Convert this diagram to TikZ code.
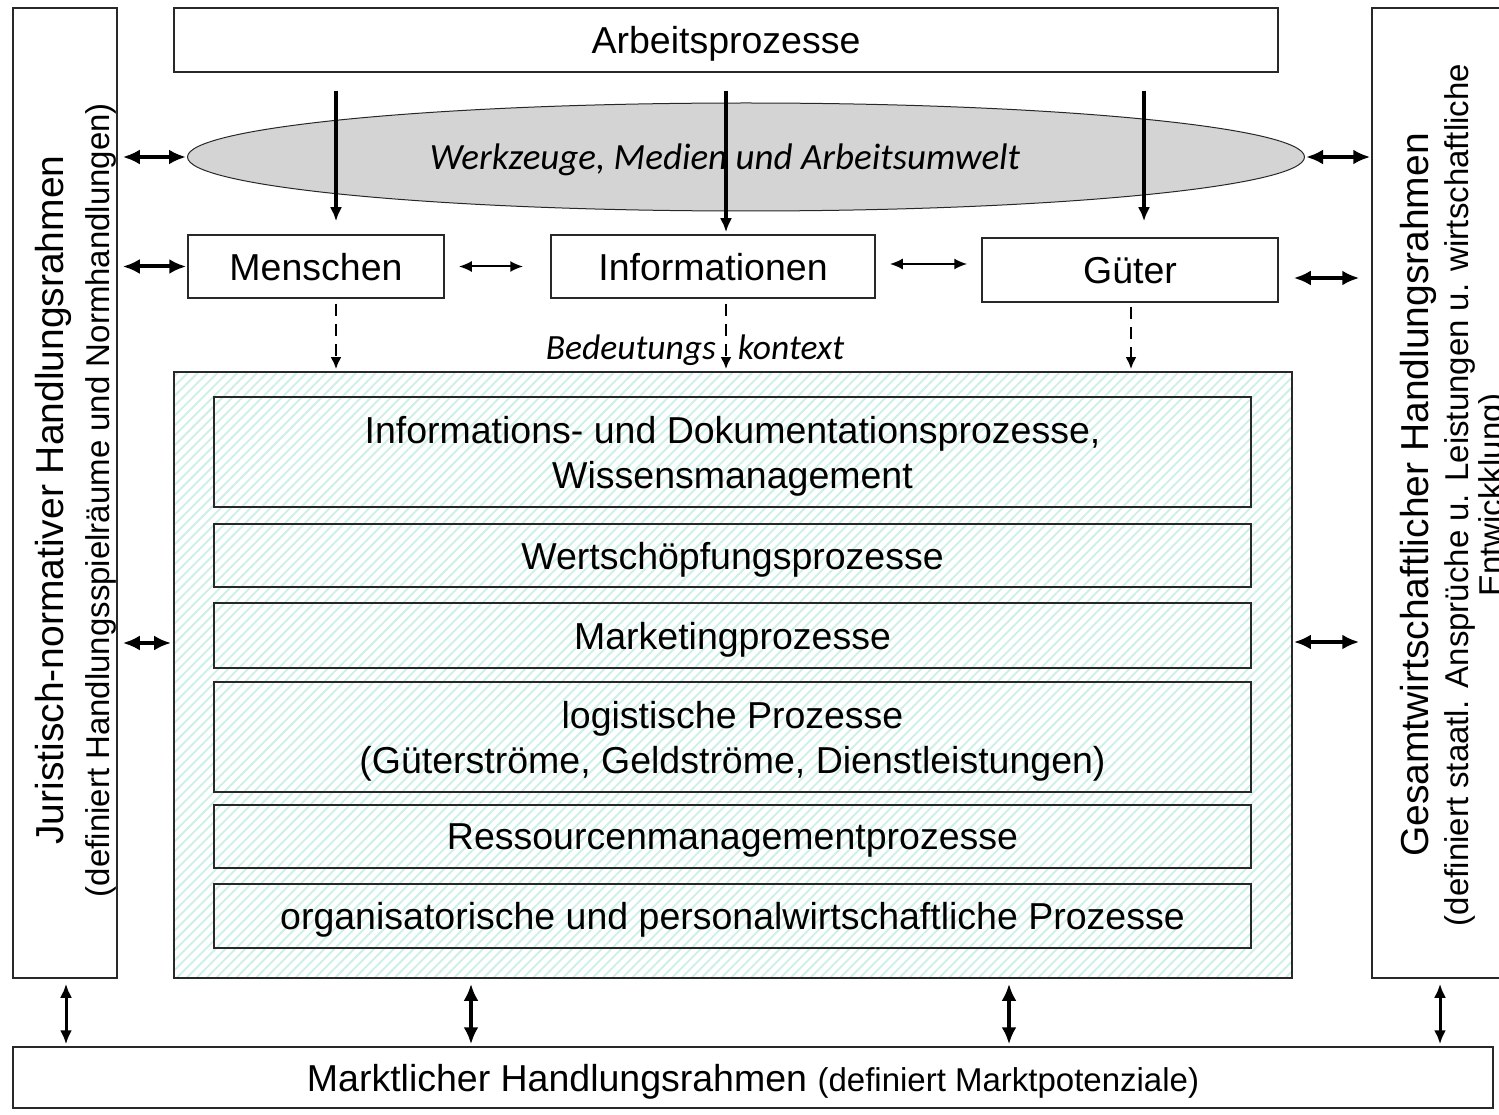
\documentclass[tikz,border=0pt]{standalone}
\usepackage{fontspec}
\setmainfont{Liberation Sans}
\newfontfamily\itfont{Carlito}
\usetikzlibrary{arrows.meta,shapes.geometric,patterns.meta}

\definecolor{mint}{RGB}{204,240,229}
\definecolor{ellgray}{RGB}{212,212,212}
\definecolor{edge}{RGB}{40,40,40}

\newcommand{\bigfont}{\fontsize{37.5}{45}\selectfont}
\newcommand{\sidefont}{\fontsize{39}{45}\selectfont}
\newcommand{\smallfont}{\fontsize{33}{38}\selectfont}
\newcommand{\itsize}{\itfont\itshape\fontsize{37}{42}\selectfont}
\newcommand{\itsmall}{\itfont\itshape\fontsize{35.5}{42}\selectfont}

\begin{document}
\begin{tikzpicture}[x=1pt,y=-1pt,
    box/.style={draw=edge, line width=1.5pt, rectangle, inner sep=0pt, text depth=0pt, font=\bigfont, align=center},
    hatch/.style={preaction={fill=white}, pattern={Lines[angle=45,distance=7pt,line width=1.8pt]}, pattern color=mint},
    dbl/.style={{Latex[length=17pt,width=15pt]}-{Latex[length=17pt,width=15pt]}, line width=4pt},
    dblthin/.style={{Latex[length=13pt,width=11pt]}-{Latex[length=13pt,width=11pt]}, line width=2pt},
    dblmid/.style={{Latex[length=14pt,width=12pt]}-{Latex[length=14pt,width=12pt]}, line width=3pt},
    down/.style={-{Latex[length=14pt,width=12pt]}, line width=3.5pt},
    dashdown/.style={-{Latex[length=12pt,width=11pt]}, line width=2.2pt, dash pattern=on 12pt off 8pt}]
    \clip (0,0) rectangle (1499,1115);

    % outer frames
    \node[box, minimum width=104pt, minimum height=970pt] (jur) at (65,493) {};
    \node[box, minimum width=168pt, minimum height=970pt] (ges) at (1456,493) {};
    \node[box, minimum width=1480pt, minimum height=61pt] (mkt) at (753,1077.5)
        {Marktlicher Handlungsrahmen {\smallfont (definiert Marktpotenziale)}};
    \node[rotate=90, align=center, font=\sidefont] (jurt) at (76,500)
        {Juristisch-normativer Handlungsrahmen\\[1pt] {\smallfont (definiert Handlungsspielräume und Normhandlungen)}};
    \node[rotate=90, align=center, font=\sidefont] (gest) at (1455,495)
        {Gesamtwirtschaftlicher Handlungsrahmen\\[-5pt] {\smallfont (definiert staatl. Ansprüche u. Leistungen u. wirtschaftliche}\\[-11pt] {\smallfont Entwickklung)}};

    % top
    \node[box, fill=white, minimum width=1104pt, minimum height=64pt] (arb) at (726,40) {Arbeitsprozesse};
    \node[ellipse, draw=edge, line width=1pt, fill=ellgray, minimum width=1117pt, minimum height=108pt, inner sep=0pt] (ell) at (746,157) {};
    \node[font=\itsize] (ellt) at (725,160) {Werkzeuge, Medien und Arbeitsumwelt};
    \node[box, minimum width=256pt, minimum height=63pt] (men) at (316,266.5) {Menschen};
    \node[box, minimum width=324pt, minimum height=63pt] (inf) at (713,266.5) {Informationen};
    \node[box, minimum width=296pt, minimum height=64pt] (gut) at (1130,270) {Güter};
    \node[font=\itsmall] (bed) at (695,350) {Bedeutungs\hspace{22pt}kontext};

    % processes
    \node[box, hatch, minimum width=1118pt, minimum height=606pt] (main) at (733,675) {};
    \node[box, minimum width=1037pt, minimum height=110pt] (p1) at (732.5,452)
        {Informations- und Dokumentationsprozesse,\\ Wissensmanagement};
    \node[box, minimum width=1037pt, minimum height=63pt] (p2) at (732.5,555.5) {Wertschöpfungsprozesse};
    \node[box, minimum width=1037pt, minimum height=65pt] (p3) at (732.5,635.5) {Marketingprozesse};
    \node[box, minimum width=1037pt, minimum height=110pt] (p4) at (732.5,737)
        {logistische Prozesse\\ (Güterströme, Geldströme, Dienstleistungen)};
    \node[box, minimum width=1037pt, minimum height=63pt] (p5) at (732.5,836.5) {Ressourcenmanagementprozesse};
    \node[box, minimum width=1037pt, minimum height=64pt] (p6) at (732.5,916) {organisatorische und personalwirtschaftliche Prozesse};

    \coordinate (c1) at (336,0);
    \coordinate (c2) at (726,0);
    \coordinate (c3) at (1144,0);
    \coordinate (d3) at (1131,0);
    \coordinate (lm) at (0,643);
    \coordinate (rg) at (0,278);
    \coordinate (rm) at (0,642);
    \coordinate (ig) at (0,264);
    \coordinate (b1) at (66,0);
    \coordinate (b2) at (471,0);
    \coordinate (b3) at (1009,0);
    \coordinate (b4) at (1440,0);

    % arrows
    \draw[down, shorten <=18pt, shorten >=13pt] (arb.south -| c1) -- (men.north -| c1);
    \draw[down, shorten <=18pt, shorten >=2pt] (arb.south -| c2) -- (inf.north -| c2);
    \draw[down, shorten <=18pt, shorten >=16pt] (arb.south -| c3) -- (gut.north -| c3);

    \draw[dbl, shorten <=5pt, shorten >=1pt] (jur.east |- ell.west) -- (ell.west);
    \draw[dbl, shorten <=5pt, shorten >=1pt] (jur.east |- men.west) -- (men.west);
    \draw[dbl, shorten <=5pt, shorten >=2pt] (jur.east |- lm) -- (main.west |- lm);
    \draw[dbl, shorten <=1pt, shorten >=1pt] (ell.east) -- (ges.west |- ell.east);
    \draw[dbl, shorten <=15pt, shorten >=12pt] (gut.east |- rg) -- (ges.west |- rg);
    \draw[dbl, shorten <=1pt, shorten >=12pt] (main.east |- rm) -- (ges.west |- rm);

    \draw[dblthin, shorten <=14pt, shorten >=27pt] (men.east) -- (inf.west);
    \draw[dblthin, shorten <=14pt, shorten >=14pt] (inf.east |- ig) -- (gut.west |- ig);

    \draw[dashdown, shorten <=5pt, shorten >=2pt] (men.south -| c1) -- (main.north -| c1);
    \draw[dashdown, shorten <=5pt, shorten >=2pt] (inf.south -| c2) -- (main.north -| c2);
    \draw[dashdown, shorten <=4pt, shorten >=2pt] (gut.south -| d3) -- (main.north -| d3);

    \draw[dblmid, shorten <=5pt, shorten >=2pt] (jur.south -| b1) -- (mkt.north -| b1);
    \draw[dbl, shorten <=5pt, shorten >=2pt] (main.south -| b2) -- (mkt.north -| b2);
    \draw[dbl, shorten <=5pt, shorten >=2pt] (main.south -| b3) -- (mkt.north -| b3);
    \draw[dblmid, shorten <=5pt, shorten >=2pt] (ges.south -| b4) -- (mkt.north -| b4);
\end{tikzpicture}
\end{document}
